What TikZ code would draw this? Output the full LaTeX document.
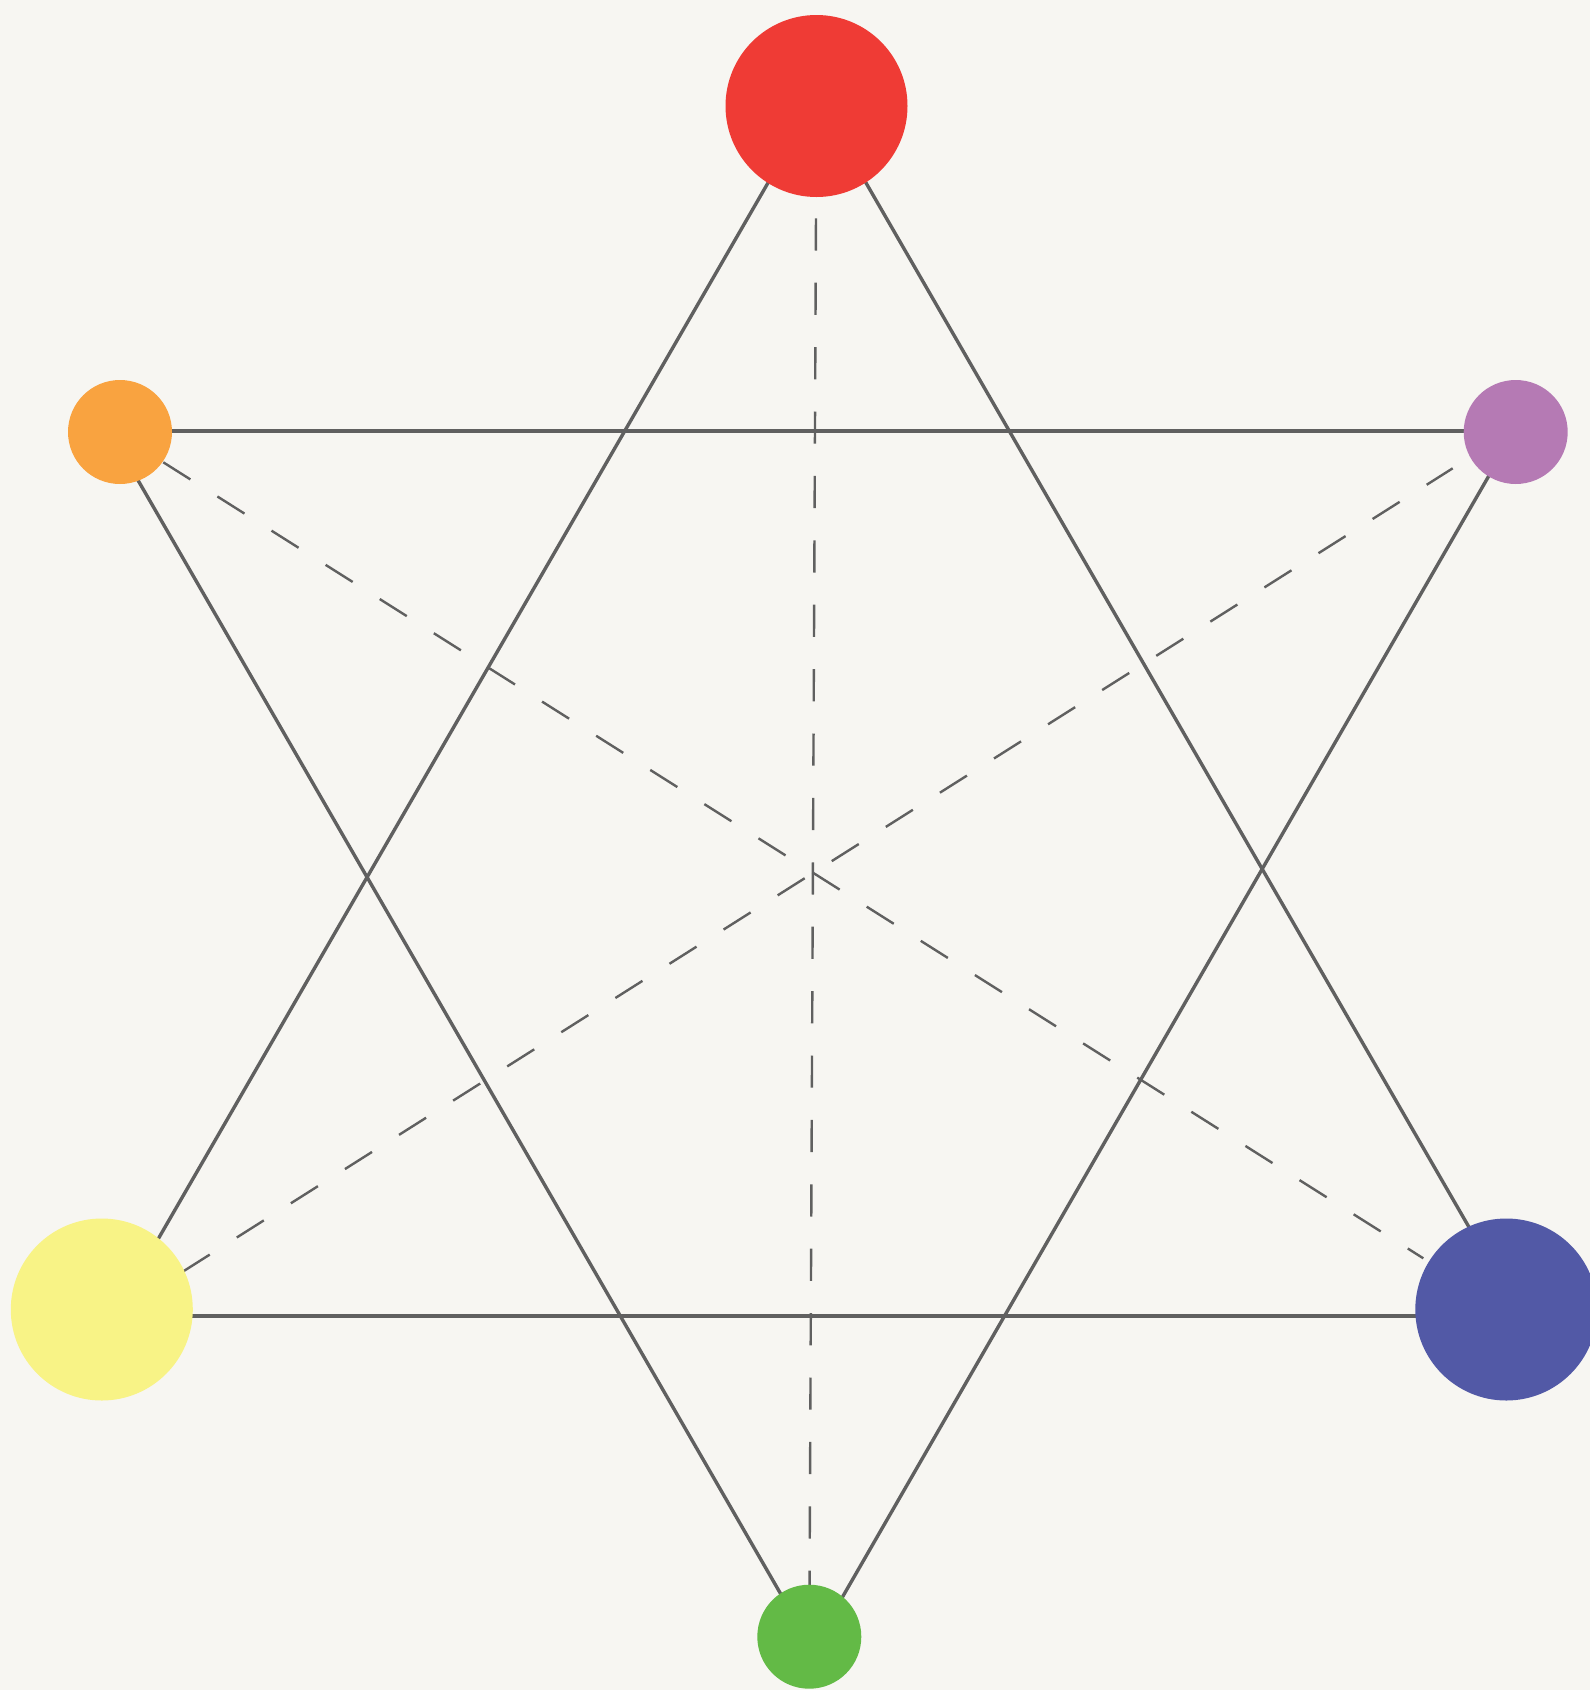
\documentclass[tikz,border=0pt]{standalone}
\definecolor{bg}{HTML}{F7F6F2}
\definecolor{linec}{HTML}{606060}
\definecolor{cred}{HTML}{EF3B35}
\definecolor{corange}{HTML}{F9A340}
\definecolor{cpurple}{HTML}{B57AB4}
\definecolor{cyellow}{HTML}{F8F386}
\definecolor{cblue}{HTML}{5259A6}
\definecolor{cgreen}{HTML}{63BA46}
\begin{document}
\begin{tikzpicture}[x=1pt,y=-1pt,
  dot/.style={circle, inner sep=0pt, outer sep=0pt, draw=none},
  bigdot/.style={dot, minimum size=182pt},
  smalldot/.style={dot, minimum size=104pt},
  solidline/.style={draw=linec, line width=3.4pt},
  dashline/.style={draw=linec, line width=2.4pt, dash pattern=on 32pt off 32pt}]
\useasboundingbox (0,0) rectangle (1590,1690);
\fill[bg] (0,0) rectangle (1590,1690);
\clip (0,0) rectangle (1590,1690);
% circle centres
\coordinate (cr) at (816.5,106);
\coordinate (co) at (120,432);
\coordinate (cp) at (1515.7,432);
\coordinate (cy) at (101.8,1309.5);
\coordinate (cb) at (1506.3,1309.5);
\coordinate (cg) at (809.3,1636.7);
% triangle vertices
\coordinate (t1a) at (817,98);
\coordinate (t1b) at (113.7,1316);
\coordinate (t1c) at (1520.3,1316);
\coordinate (t2a) at (109.6,431);
\coordinate (t2b) at (1514.7,431);
\coordinate (t2c) at (812.5,1649);
% dash ends
\coordinate (d2s) at (163.3,462.3);
\coordinate (d2e) at (1423.3,1258.3);
\coordinate (d3s) at (182.7,1271.7);
\coordinate (d3e) at (1452.7,468.3);
% solid triangles
\draw[solidline] (t1a) -- (t1b);
\draw[solidline] (t1a) -- (t1c);
\draw[solidline] (t1b) -- (t1c);
\draw[solidline] (t2a) -- (t2b);
\draw[solidline] (t2a) -- (t2c);
\draw[solidline] (t2b) -- (t2c);
% dashed lines
\draw[dashline, dash pattern=on 32.2pt off 32.2pt, dash phase=16.5pt] (cr) -- (cg);
\draw[dashline] (d2s) -- (d2e);
\draw[dashline] (d3s) -- (d3e);
% circles
\node[bigdot, fill=cred] (red) at (cr) {};
\node[smalldot, fill=corange] (orange) at (co) {};
\node[smalldot, fill=cpurple] (purple) at (cp) {};
\node[bigdot, fill=cyellow] (yellow) at (cy) {};
\node[bigdot, fill=cblue] (blue) at (cb) {};
\node[smalldot, fill=cgreen] (green) at (cg) {};
\end{tikzpicture}
\end{document}
